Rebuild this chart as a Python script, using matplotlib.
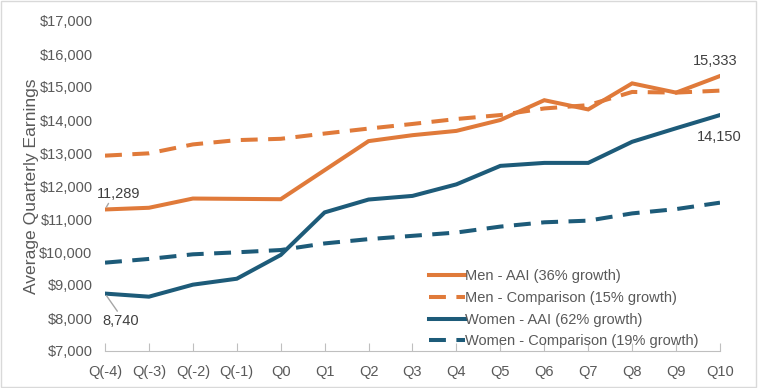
import matplotlib
matplotlib.use("Agg")
import matplotlib.pyplot as plt
from matplotlib.patches import Rectangle

quarters = ["Q(-4)", "Q(-3)", "Q(-2)", "Q(-1)", "Q0", "Q1", "Q2", "Q3", "Q4",
            "Q5", "Q6", "Q7", "Q8", "Q9", "Q10"]
men_aai = [11289, 11340, 11620, 11610, 11600, 12480, 13360, 13540, 13670,
           14000, 14600, 14320, 15110, 14830, 15333]
men_comp = [12920, 12990, 13260, 13390, 13430, 13590, 13740, 13880, 14030,
            14150, 14350, 14450, 14850, 14830, 14890]
women_aai = [8740, 8646, 9010, 9190, 9910, 11200, 11590, 11700, 12050,
             12610, 12700, 12700, 13340, 13750, 14150]
women_comp = [9677, 9790, 9930, 9990, 10060, 10260, 10390, 10490, 10590,
              10770, 10900, 10950, 11170, 11300, 11495]
labels = ["Men - AAI (36% growth)", "Men - Comparison (15% growth)",
          "Women - AAI (62% growth)", "Women - Comparison (19% growth)"]
yticks = [7000, 8000, 9000, 10000, 11000, 12000, 13000, 14000, 15000, 16000, 17000]

ORANGE = "#E07A3A"
BLUE = "#1D5B79"
GRAY = "#595959"

plt.rcParams['font.family'] = ['Liberation Sans', 'DejaVu Sans']

fig = plt.figure(figsize=(7.58, 3.88), dpi=100)
ax = fig.add_axes([105/758, 1-351/388, (720-105)/758, (351-21)/388])

x = list(range(len(quarters)))
lw = 2.9
dash = (0, (4.2, 2.6))
ax.plot(x, men_aai, color=ORANGE, lw=lw, label=labels[0], solid_joinstyle='miter')
ax.plot(x, men_comp, color=ORANGE, lw=lw, ls=dash, label=labels[1])
ax.plot(x, women_aai, color=BLUE, lw=lw, label=labels[2], solid_joinstyle='miter')
ax.plot(x, women_comp, color=BLUE, lw=lw, ls=dash, label=labels[3])

ax.set_xlim(0, len(quarters) - 1)
ax.set_ylim(7000, 17000)
ax.set_yticks(yticks)
ax.set_yticklabels([f"${v:,.0f}" for v in yticks])
ax.set_xticks(x)
ax.set_xticklabels(quarters)
ax.tick_params(axis='y', length=0, pad=9, labelsize=10.5, labelcolor=GRAY)
ax.tick_params(axis='x', direction='in', length=6, color="#BFBFBF", pad=10,
               labelsize=10.5, labelcolor=GRAY)
for s in ['top', 'right', 'left']:
    ax.spines[s].set_visible(False)
ax.spines['bottom'].set_color("#BFBFBF")
ax.set_ylabel("Average Quarterly Earnings", fontsize=12.6, color=GRAY, labelpad=0)

# annotations
ax.annotate(f"{men_aai[0]:,}", xy=(x[0], men_aai[0]), xytext=(-0.18, men_aai[0] + 480),
            fontsize=10.5, color="#404040", ha='left', va='center',
            arrowprops=dict(arrowstyle='-', color="#A6A6A6", lw=1, shrinkA=0, shrinkB=2,
                            relpos=(0.3, 0)), annotation_clip=False)
ax.annotate(f"{women_aai[0]:,}", xy=(x[0], women_aai[0]), xytext=(-0.05, women_aai[0] - 830),
            fontsize=10.5, color="#404040", ha='left', va='center',
            arrowprops=dict(arrowstyle='-', color="#A6A6A6", lw=1, shrinkA=0, shrinkB=2,
                            relpos=(0.45, 1)), annotation_clip=False)
ax.text(x[-1] - 0.62, men_aai[-1] + 470, f"{men_aai[-1]:,}", fontsize=10.5,
        color="#404040", ha='left', va='center')
ax.text(x[-1] - 0.52, women_aai[-1] - 680, f"{women_aai[-1]:,}", fontsize=10.5,
        color="#404040", ha='left', va='center')

leg = ax.legend(loc='lower right', bbox_to_anchor=(0.98, -0.018), frameon=False,
                fontsize=10.5, handlelength=2.5, handletextpad=0.0, labelspacing=0.52,
                borderaxespad=0.2)
for t in leg.get_texts():
    t.set_color(GRAY)

fig.patches.append(Rectangle((0.001, 0.002), 0.997, 0.995, transform=fig.transFigure,
                             fill=False, edgecolor="#D9D9D9", lw=1))

fig.savefig("out.png", dpi=100)
